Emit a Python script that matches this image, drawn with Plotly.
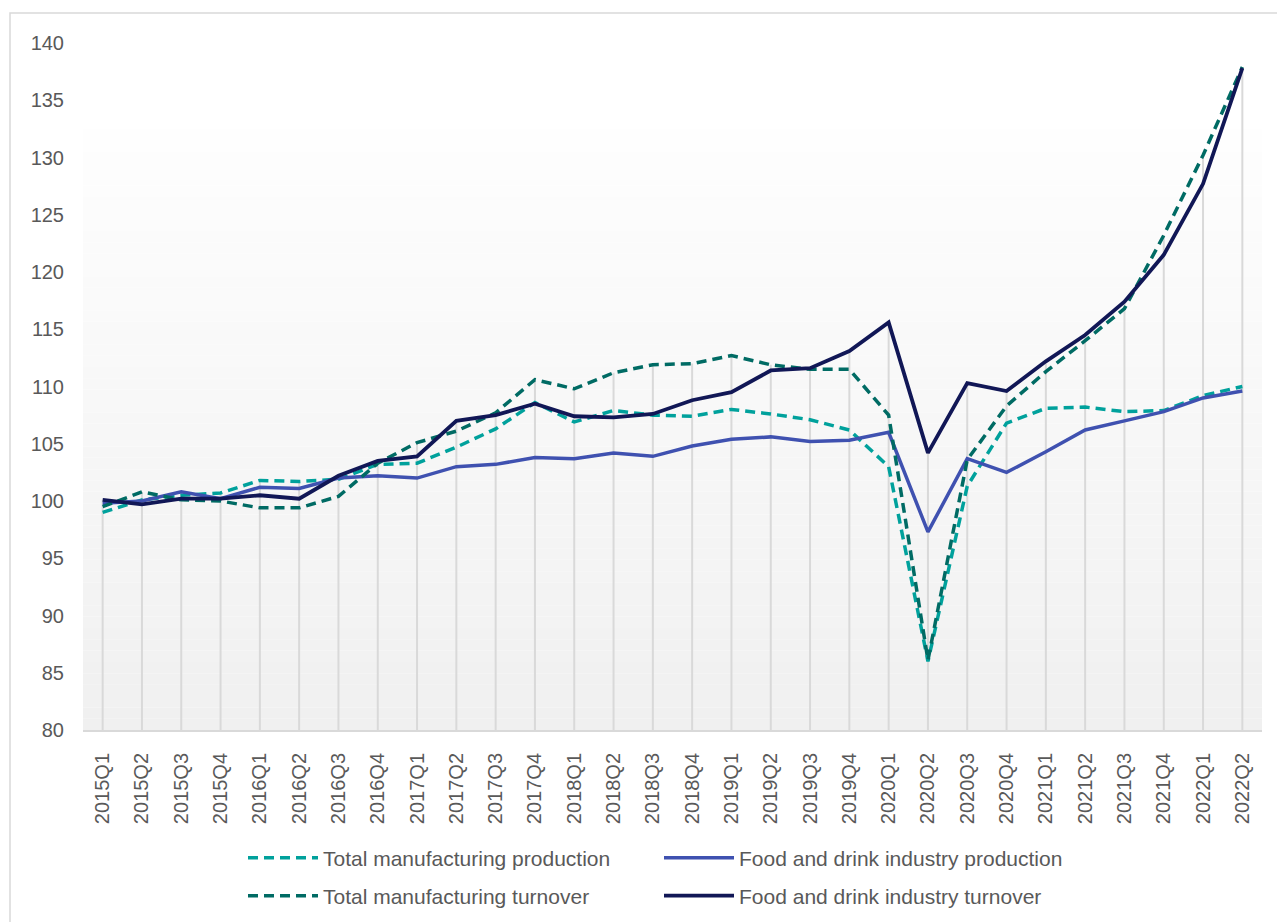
import plotly.graph_objects as go
import numpy as np

quarters = ["2015Q1", "2015Q2", "2015Q3", "2015Q4", "2016Q1", "2016Q2", "2016Q3", "2016Q4",
            "2017Q1", "2017Q2", "2017Q3", "2017Q4", "2018Q1", "2018Q2", "2018Q3", "2018Q4",
            "2019Q1", "2019Q2", "2019Q3", "2019Q4", "2020Q1", "2020Q2", "2020Q3", "2020Q4",
            "2021Q1", "2021Q2", "2021Q3", "2021Q4", "2022Q1", "2022Q2"]

total_mfg_production = [99.0, 100.1, 100.5, 100.7, 101.8, 101.7, 101.9, 103.2, 103.3, 104.7,
                        106.3, 108.6, 106.9, 107.9, 107.5, 107.4, 108.0, 107.6, 107.1, 106.2,
                        103.0, 86.0, 101.3, 106.8, 108.1, 108.2, 107.8, 107.9, 109.2, 110.0]

food_drink_production = [99.8, 100.0, 100.8, 100.2, 101.2, 101.1, 102.0, 102.2, 102.0, 103.0,
                         103.2, 103.8, 103.7, 104.2, 103.9, 104.8, 105.4, 105.6, 105.2, 105.3,
                         106.0, 97.3, 103.7, 102.5, 104.3, 106.2, 107.0, 107.8, 109.0, 109.6]

total_mfg_turnover = [99.5, 100.8, 100.1, 100.0, 99.4, 99.4, 100.4, 103.3, 105.1, 106.1,
                      107.7, 110.6, 109.8, 111.2, 111.9, 112.0, 112.7, 111.9, 111.5, 111.5,
                      107.5, 86.1, 103.6, 108.3, 111.3, 114.0, 116.8, 123.2, 130.2, 137.9]

food_drink_turnover = [100.1, 99.7, 100.2, 100.2, 100.5, 100.2, 102.2, 103.5, 103.9, 107.0,
                       107.5, 108.5, 107.4, 107.3, 107.6, 108.8, 109.5, 111.4, 111.6, 113.1,
                       115.6, 104.2, 110.3, 109.6, 112.2, 114.5, 117.4, 121.5, 127.7, 137.8]

y_min, y_max, y_step = 80, 140, 5

TXT = "#595959"
FONT = "Liberation Sans, Arial, sans-serif"

fig = go.Figure()

# drop lines from the highest series value at each quarter down to the axis
stack = np.array([total_mfg_production, food_drink_production, total_mfg_turnover, food_drink_turnover])
tops = stack.max(axis=0)
dx, dy = [], []
for q, t in zip(quarters, tops):
    dx += [q, q, None]
    dy += [y_min, float(t), None]
fig.add_trace(go.Scatter(x=dx, y=dy, mode="lines", line=dict(color="#d9d9d9", width=2),
                         hoverinfo="skip", showlegend=False))

series = [
    ("Total manufacturing production", total_mfg_production, "#00A19C", "10px,6px", "legend", 3.5),
    ("Food and drink industry production", food_drink_production, "#3F51B0", "solid", "legend", 3.5),
    ("Total manufacturing turnover", total_mfg_turnover, "#006B64", "10px,6px", "legend2", 3.5),
    ("Food and drink industry turnover", food_drink_turnover, "#111756", "solid", "legend2", 3.8),
]
for name, vals, col, dash, lg, w in series:
    fig.add_trace(go.Scatter(x=quarters, y=vals, name=name, mode="lines",
                             line=dict(color=col, width=w, dash=dash), legend=lg))

# gradient plot background
shapes = []
g_top = 132.5
n = 53
for i in range(n):
    v0 = y_min + (g_top - y_min) * i / n
    v1 = y_min + (g_top - y_min) * (i + 1) / n
    t = (i + 0.5) / n
    g = int(round(240 + t * (254 - 240)))
    shapes.append(dict(type="rect", xref="paper", yref="y", x0=0, x1=1, y0=v0, y1=v1,
                       fillcolor=f"rgb({g},{g},{g})", line=dict(width=0), layer="below"))

# outer chart border
W, H = 1277, 922
ml, mr, mt, mb = 83, 15, 43, 192
pw, ph = W - ml - mr, H - mt - mb
def px(x):
    return (x - ml) / pw
def py(y):
    return (H - mb - y) / ph
shapes.append(dict(type="rect", xref="paper", yref="paper", x0=px(10), x1=px(1290), y0=py(935), y1=py(13),
                   line=dict(color="#d9d9d9", width=1.5), fillcolor="rgba(0,0,0,0)", layer="below"))

leg_common = dict(orientation="h", xanchor="left", yanchor="middle", xref="container", yref="container",
                  x=243 / W, font=dict(family=FONT, size=21, color=TXT), bgcolor="rgba(0,0,0,0)",
                  entrywidth=331, itemwidth=70, traceorder="normal")

fig.update_layout(
    width=W, height=H,
    margin=dict(l=ml, r=mr, t=mt, b=mb),
    paper_bgcolor="white", plot_bgcolor="white",
    font=dict(family=FONT, color=TXT),
    shapes=shapes,
    legend=dict(**leg_common, y=1 - 858 / H),
    legend2=dict(**leg_common, y=1 - 896 / H),
    xaxis=dict(type="category", range=[-0.5, len(quarters) - 0.5], tickangle=-90,
               showgrid=False, zeroline=False, showline=True, linecolor="#d9d9d9", linewidth=2,
               ticks="", tickfont=dict(family=FONT, size=20, color=TXT), ticklabelstandoff=13),
    yaxis=dict(range=[y_min, y_max], dtick=y_step, tick0=y_min, showgrid=False, zeroline=False,
               showline=False, ticks="", tickfont=dict(family=FONT, size=20, color=TXT),
               ticklabelstandoff=18),
)

fig.write_html("out.html", config={"displayModeBar": False},
               post_script="document.body.style.margin='0';")
